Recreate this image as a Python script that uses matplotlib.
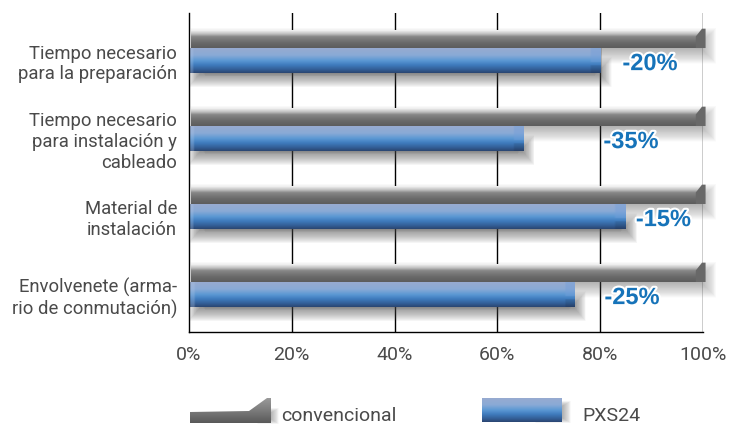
import numpy as np
import matplotlib.pyplot as plt
import matplotlib.patheffects as pe
from matplotlib.colors import LinearSegmentedColormap
from matplotlib.patches import Polygon, Rectangle

# data
categories = ["Tiempo necesario\npara la preparación",
              "Tiempo necesario\npara instalación y\ncableado",
              "Material de\ninstalación",
              "Envolvenete (arma-\nrio de conmutación)"]
convencional = [100, 100, 100, 100]
pxs24 = [80, 65, 85, 75]
reduction_labels = ["-20%", "-35%", "-15%", "-25%"]
label_x = [89.7, 86.0, 92.3, 86.2]
xticks = [0, 20, 40, 60, 80, 100]
xtick_labels = ["0%", "20%", "40%", "60%", "80%", "100%"]
legend_names = ["convencional", "PXS24"]

FONT = ["Roboto", "DejaVu Sans"]
TXT = "#4a4a4a"

blue_stops = [(0.0, "#97abd0"), (0.28, "#8aaad6"), (0.5, "#5b98d3"),
              (0.68, "#3f7bbd"), (0.86, "#335f97"), (1.0, "#2b4672")]
gray_stops = [(0.0, "#f4f4f4"), (0.22, "#bdbdbd"), (0.36, "#878787"),
              (0.7, "#6a6a6a"), (1.0, "#5c5c5c")]


def vgrad(stops, n=80):
    cmap = LinearSegmentedColormap.from_list("g", stops)
    return np.repeat(cmap(np.linspace(0, 1, n))[:, None, :], 4, axis=1)


def soft_shadow(a, x0, x1, y0, y1, bx, by, color, amax, zorder=2, clip=True, steps=40):
    # blurred rectangle: stack of shrinking translucent rectangles
    step_alpha = 1 - (1 - amax) ** (1 / steps)
    for k in range(steps):
        t = k / (steps - 1)
        dx = bx * (1 - 2 * t)
        dy = by * (1 - 2 * t)
        a.add_patch(Rectangle((x0 - dx, y0 - dy), x1 - x0 + 2 * dx, y1 - y0 + 2 * dy,
                              fc=color, ec="none", lw=0, alpha=step_alpha,
                              zorder=zorder, clip_on=clip, antialiased=True))


fig = plt.figure(figsize=(7.34, 4.32), dpi=100)

# legend layer (pixel coordinates)
lax = fig.add_axes([0, 0, 1, 1])
lax.axis("off")

ax = fig.add_axes([189 / 734, 1 - 332.3 / 432, (703 - 189) / 734, (332.3 - 12.7) / 432])
y_pos = np.arange(len(categories))

for x in xticks[1:]:
    ax.axvline(x, color="black", lw=1.0, zorder=1)

# shadows
for y, v, c in zip(y_pos, pxs24, convencional):
    soft_shadow(ax, 2.0, c + 0.8, y - 0.3, y - 0.08, 1.8, 0.12, "#606060", 0.5,
                clip=False)
    soft_shadow(ax, 1.5, v + 0.6, y + 0.08, y + 0.22, 1.6, 0.12, "#555555", 0.65)

gray_bars = ax.barh(y_pos - 0.378, convencional, height=0.218, align="edge",
                    color="none", zorder=3)
for bar in gray_bars:
    x0, y0, w, h = bar.get_x(), bar.get_y(), bar.get_width(), bar.get_height()
    ax.imshow(vgrad(gray_stops), extent=(x0 + 0.4, x0 + w, y0 + h, y0),
              aspect="auto", zorder=3, interpolation="bilinear")
    cap = Polygon([(w - 1.4, y0 + h), (w - 1.4, y0 + 0.07), (w - 0.2, y0 - 0.03),
                   (w + 0.5, y0 - 0.03), (w + 0.5, y0 + h)],
                  closed=True, fc="#686868", ec="none", zorder=3, clip_on=False)
    ax.add_patch(cap)

blue_bars = ax.barh(y_pos, pxs24, height=0.32, color="none", zorder=4)
for bar in blue_bars:
    x0, y0, w, h = bar.get_x(), bar.get_y(), bar.get_width(), bar.get_height()
    img = np.repeat(vgrad(blue_stops)[:, :1, :], 200, axis=1)
    # bevelled ends
    cols = np.linspace(0, w, 200)
    edge = cols > w - 1.8
    img[:45, edge, :3] = img[:45, edge, :3] * 0.55 + np.array([0.45, 0.62, 0.85]) * 0.45
    img[55:, edge, :3] *= 0.9
    left = cols < 0.8
    img[:, left, :3] = img[:, left, :3] * 0.7 + 0.3 * np.array([0.7, 0.78, 0.9])
    ax.imshow(img, extent=(x0, x0 + w, y0 + h, y0), aspect="auto", zorder=4,
              interpolation="bilinear")

for y, lab, lx in zip(y_pos, reduction_labels, label_x):
    ax.text(lx, y + 0.04, lab, ha="center", va="center", fontsize=17,
            fontweight="bold", family=["Liberation Sans", "DejaVu Sans"],
            color="#1673b9", zorder=6,
            path_effects=[pe.withStroke(linewidth=3, foreground="white")])

ax.set_xlim(0, 100)
ax.set_ylim(3.485, -0.613)
ax.set_xticks(xticks, xtick_labels)
ax.set_yticks(y_pos, categories)
ax.tick_params(axis="x", length=0, pad=10, labelsize=14, colors=TXT)
ax.tick_params(axis="y", length=0, pad=8.5, labelsize=13.3, colors=TXT)
for t in ax.get_xticklabels() + ax.get_yticklabels():
    t.set_family(FONT)
for s in ["top", "right"]:
    ax.spines[s].set_visible(False)
for s in ["left", "bottom"]:
    ax.spines[s].set_color("black")
    ax.spines[s].set_linewidth(1.0)
    ax.spines[s].set_zorder(5)

# legend swatches
soft_shadow(lax, 262, 274, 411, 421, 5, 3, "#8a8a8a", 0.6, zorder=1)
soft_shadow(lax, 540, 566, 404, 420, 5, 3, "#8a8a8a", 0.6, zorder=1)
gpoly = Polygon([(190, 423), (190, 412), (249, 411), (267, 398), (271, 398), (271, 423)],
                closed=True, fc="none", ec="none")
lax.add_patch(gpoly)
gim = lax.imshow(vgrad([(0, "#9a9a9a"), (0.5, "#7a7a7a"), (1, "#565656")]),
                 extent=(190, 271, 424, 398), aspect="auto", interpolation="bilinear",
                 zorder=3)
gim.set_clip_path(gpoly)
lax.imshow(vgrad(blue_stops), extent=(482, 562, 422, 398), aspect="auto",
           interpolation="bilinear", zorder=3)
lax.set_xlim(0, 734)
lax.set_ylim(432, 0)
lax.text(281, 416, legend_names[0], ha="left", va="center", fontsize=14,
         family=FONT, color=TXT)
lax.text(582, 416, legend_names[1], ha="left", va="center", fontsize=14,
         family=FONT, color=TXT)

fig.savefig("out.png", dpi=100, facecolor="white")
